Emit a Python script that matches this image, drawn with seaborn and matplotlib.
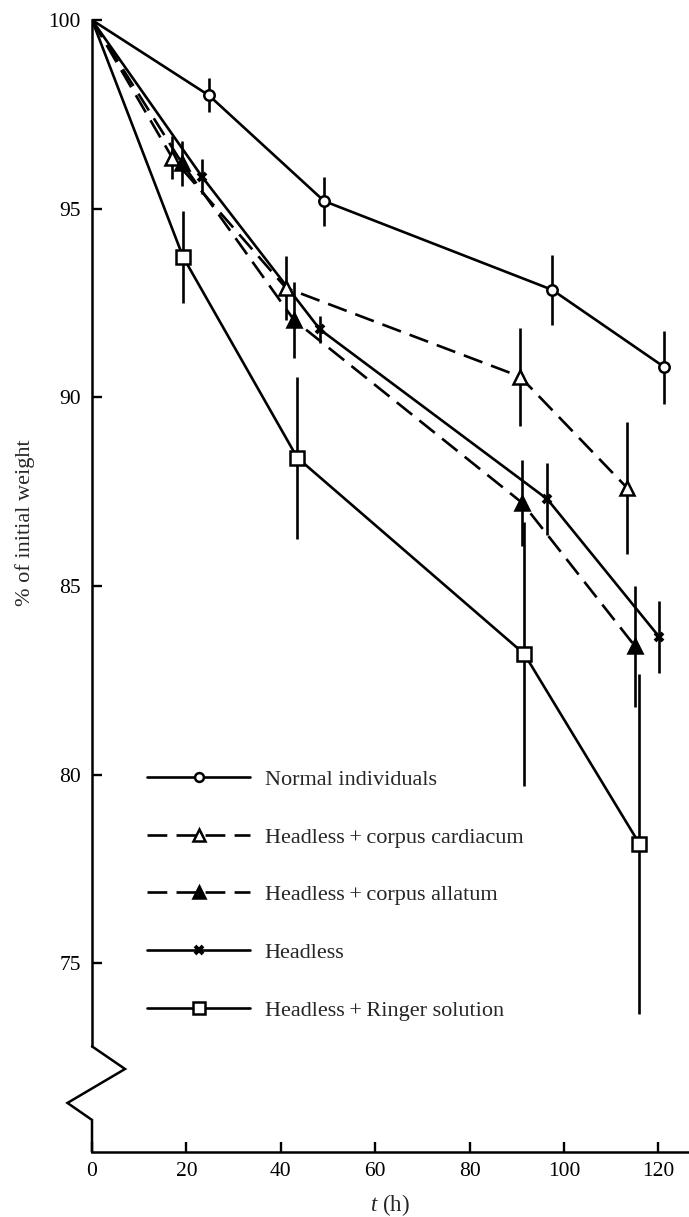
import matplotlib
matplotlib.use('Agg')

import numpy as np
import pandas as pd
import seaborn as sns
import matplotlib.pyplot as plt
from matplotlib.lines import Line2D

# =================================== DATA ===================================

normal_t = [0, 24.8, 49.2, 97.5, 121.3]
normal_w = [100, 98.0, 95.2, 92.85, 90.8]
normal_e = [0.45, 0.65, 0.92, 0.97]

cardiacum_t = [0, 17.0, 41.1, 90.7, 113.4]
cardiacum_w = [100, 96.35, 92.9, 90.55, 87.6]
cardiacum_e = [0.57, 0.85, 1.3, 1.75]

allatum_t = [0, 19.1, 42.8, 91.2, 115.1]
allatum_w = [100, 96.2, 92.05, 87.2, 83.4]
allatum_e = [0.6, 1.0, 1.15, 1.6]

headless_t = [0, 23.3, 48.3, 96.5, 120.2]
headless_w = [100, 95.85, 91.8, 87.3, 83.65]
headless_e = [0.47, 0.35, 0.95, 0.95]

ringer_t = [0, 19.3, 43.5, 91.6, 116.0]
ringer_w = [100, 93.72, 88.4, 83.2, 78.17]
ringer_e = [1.22, 2.15, 3.5, 4.5]

labels = ['Normal individuals', 'Headless\u2009+\u2009corpus cardiacum', 'Headless\u2009+\u2009corpus allatum',
          'Headless', 'Headless\u2009+\u2009Ringer solution']

x_ticks = [0, 20, 40, 60, 80, 100, 120]
y_ticks = [75, 80, 85, 90, 95, 100]

# =================================== STYLE ===================================

sns.set_style('ticks')
plt.rcParams['font.family'] = ['Liberation Serif', 'DejaVu Serif']
plt.rcParams['mathtext.fontset'] = 'custom'
plt.rcParams['mathtext.rm'] = 'Liberation Serif'
plt.rcParams['mathtext.it'] = 'Liberation Serif:italic'

LW = 1.9
DASH = (0, (7.5, 3.5))
series_styles = [
    dict(ls='-', marker='o', ms=7.5, mfc='white', mew=1.8),
    dict(ls=DASH, marker='^', ms=9.5, mfc='white', mew=1.8),
    dict(ls=DASH, marker='^', ms=9.5, mfc='black', mew=1.8),
    dict(ls='-', marker='x', ms=6, mfc='black', mew=2.8),
    dict(ls='-', marker='s', ms=9.5, mfc='white', mew=1.8),
]

series = [
    (normal_t, normal_w, normal_e),
    (cardiacum_t, cardiacum_w, cardiacum_e),
    (allatum_t, allatum_w, allatum_e),
    (headless_t, headless_w, headless_e),
    (ringer_t, ringer_w, ringer_e),
]

# =================================== PLOT ===================================

fig = plt.figure(figsize=(6.89, 12.17), dpi=100)
ax = fig.add_axes([92 / 689, 1 - 1152 / 1217, 596 / 689, 1132 / 1217])

handles = []
for (t, w, e), style, label in zip(series, series_styles, labels):
    df = pd.DataFrame({'t': t, 'w': w})
    sns.lineplot(data=df, x='t', y='w', ax=ax, color='black', lw=LW, linestyle=style['ls'],
                 estimator=None, sort=False, legend=False)
    ax.errorbar(t[1:], w[1:], yerr=e, fmt=style['marker'], ms=style['ms'], mfc=style['mfc'],
                mec='black', mew=style['mew'], ecolor='black', elinewidth=LW, capsize=0,
                color='black', zorder=3)
    handles.append(Line2D([], [], color='black', lw=LW, linestyle=style['ls'], marker=style['marker'],
                          ms=style['ms'] * 0.85, mfc=style['mfc'], mec='black', mew=style['mew']))

ax.set_xlim(0, 126.3)
ax.set_ylim(70, 100)
ax.set_xticks(x_ticks)
ax.set_yticks(y_ticks)
ax.tick_params(direction='in', length=7, width=1.7, colors='black', labelsize=15.5)
ax.tick_params(axis='y', pad=8)
ax.tick_params(axis='x', pad=7)

sns.despine(ax=ax, top=True, right=True)
for side in ['left', 'bottom']:
    ax.spines[side].set_linewidth(1.8)
    ax.spines[side].set_color('black')
ax.spines['left'].set_bounds(72.8, 100)

# axis break
ax.plot([0, 7, -5.2, 0, 0], [72.8, 72.2, 71.3, 70.85, 70], color='black', lw=1.8,
        clip_on=False, solid_joinstyle='miter')

ax.set_xlabel(r'$t$ (h)', fontsize=16.5, labelpad=8)
ax.set_ylabel('% of initial weight', fontsize=16)
ax.yaxis.set_label_coords(-0.095, 0.556)

leg = ax.legend(handles, labels, loc='upper left', bbox_to_anchor=(0.093, 0.338), frameon=False,
                fontsize=16, handlelength=4.6, handletextpad=0.68, labelspacing=1.67,
                borderpad=0, borderaxespad=0, numpoints=1)

fig.savefig('out.png', dpi=100)
plt.close('all')
